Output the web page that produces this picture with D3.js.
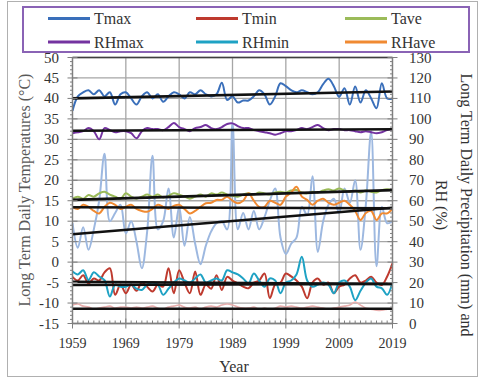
<!DOCTYPE html>
<html lang="en">
<head>
    <meta charset="UTF-8">
    <title>Long Term Daily Temperatures and RH</title>
    <style>
        body {
            margin: 0;
            background-color: #FFFFFF;
        }
        svg text {
            font-family: 'Liberation Serif', 'Times New Roman', serif;
        }
    </style>
</head>
<body>
    <div id="chart"></div>

    <script src="https://cdnjs.cloudflare.com/ajax/libs/d3/7.8.5/d3.min.js"></script>
    <script>
        // ---- data (1959 - 2019) ----
        const years = d3.range(1959, 2020);

        // left axis, deg C
        const tmax = [37.0, 40.5, 41.5, 42.0, 41.0, 42.0, 40.5, 41.5, 38.5, 41.0,
                      41.5, 40.0, 38.5, 40.5, 41.5, 40.0, 41.0, 39.2, 40.5, 41.5,
                      41.0, 40.0, 41.5, 41.0, 42.0, 41.0, 40.5, 41.0, 43.8, 39.6,
                      40.5, 39.0, 39.5, 39.5, 40.5, 42.0, 41.0, 38.5, 40.5, 43.7,
                      43.0, 42.0, 41.5, 42.0, 41.5, 41.0, 41.5, 43.5, 44.8, 43.0,
                      40.4, 42.5, 38.5, 42.9, 39.0, 42.0, 40.0, 37.6, 43.7, 40.0, 40.0];
        const tmin = [-3.6, -4.5, -3.2, -5.2, -4.0, -4.5, -2.5, -1.5, -8.0, -5.5,
                      -7.6, -5.5, -7.0, -5.0, -6.0, -7.2, -5.5, -6.0, -1.5, -7.6,
                      -2.0, -5.0, -7.6, -2.3, -8.0, -5.5, -6.5, -3.2, -6.8, -3.6,
                      -4.5, -5.2, -6.0, -6.4, -5.0, -4.5, -2.8, -8.8, -5.5, -5.0,
                      -2.8, -3.5, -4.5, -6.0, -8.8, -5.0, -4.0, -5.5, -5.0, -7.6,
                      -6.0, -5.5, -4.0, -3.2, -5.0, -4.5, -3.6, -5.0, -5.6, -3.5, -0.3];
        const tave = [15.5, 16.0, 15.5, 16.4, 16.0, 16.8, 17.2, 16.5, 16.0, 15.5,
                      16.8, 16.0, 15.5, 16.0, 16.5, 16.0, 16.5, 15.8, 16.2, 16.8,
                      16.5, 16.0, 15.5, 16.0, 16.5, 16.0, 16.8, 16.5, 17.0, 16.5,
                      16.2, 16.0, 16.5, 16.8, 16.5, 17.0, 16.8, 16.5, 17.0, 17.2,
                      17.0, 17.5, 17.6, 17.0, 16.8, 17.2, 17.0, 17.5, 17.8, 17.5,
                      18.0, 17.5, 17.2, 17.5, 17.0, 17.5, 17.2, 17.0, 17.6, 17.8, 17.5];

        // right axis, %
        const rhmax = [93.0, 93.5, 94.0, 95.5, 94.0, 90.0, 95.5, 94.5, 93.5, 94.0,
                       94.0, 93.0, 90.5, 94.0, 95.5, 95.0, 95.0, 94.5, 96.0, 98.0,
                       96.0, 95.0, 94.0, 95.5, 96.0, 97.0, 95.5, 95.0, 96.0, 97.5,
                       97.8, 96.5, 95.5, 95.5, 94.5, 94.0, 93.5, 93.0, 92.3, 93.0,
                       94.0, 94.0, 94.6, 95.5, 95.0, 96.0, 97.0, 95.5, 94.5, 95.0,
                       95.0, 94.5, 94.5, 94.0, 93.5, 94.0, 93.5, 93.0, 93.5, 94.5, 95.0];
        const rhmin = [25.4, 24.0, 26.0, 21.2, 25.0, 23.0, 21.2, 13.2, 19.0, 18.0,
                       18.0, 19.0, 17.0, 16.4, 19.0, 20.0, 19.0, 14.0, 17.0, 20.0,
                       22.0, 21.0, 20.0, 22.0, 24.0, 20.0, 21.0, 22.0, 21.0, 26.0,
                       25.0, 24.0, 22.0, 19.6, 24.4, 21.0, 18.0, 22.0, 21.0, 14.8,
                       20.0, 21.0, 24.0, 32.6, 21.0, 18.0, 19.0, 20.0, 19.0, 14.8,
                       20.0, 21.0, 18.0, 11.4, 16.0, 20.0, 22.0, 18.0, 17.2, 14.0, 20.0];
        const rhave = [57.0, 56.0, 58.0, 57.0, 55.0, 53.8, 57.0, 59.0, 58.0, 56.0,
                       57.0, 58.0, 56.0, 55.0, 54.6, 56.0, 58.0, 57.0, 56.0, 57.5,
                       58.0, 56.0, 53.8, 55.0, 57.0, 58.8, 59.0, 60.4, 60.4, 62.0,
                       60.0, 58.8, 60.0, 63.6, 60.0, 57.0, 57.0, 60.0, 59.0, 58.0,
                       62.0, 64.0, 66.8, 62.0, 60.4, 58.0, 60.0, 61.0, 59.0, 58.0,
                       59.0, 60.0, 58.0, 55.0, 50.6, 54.0, 55.0, 50.6, 53.8, 53.8, 56.0];
        // unlabelled series on right axis
        const prcp = [49, 37, 47, 36, 46, 60, 83, 50, 54, 58,
                      44, 50, 40, 27, 45, 82, 46, 50, 66, 42,
                      57, 38, 52, 39, 29, 38, 45, 49, 50, 46,
                      98, 46, 54, 46, 55, 46, 52, 60, 66, 42,
                      34, 39, 42, 57, 53, 72, 35, 50, 58, 61,
                      54, 66, 59, 70, 36, 58, 94, 28, 57, 49, 50];
        const pink = [9, 9.5, 8.5, 8, 7, 7.5, 8, 8.5, 7.5, 8,
                      8, 7.5, 8, 7.5, 8, 8.5, 7.5, 7, 8, 8.5,
                      9, 8, 7.5, 8, 7, 8, 8.5, 8, 9, 9.5,
                      9, 8, 7.5, 7.5, 8, 7, 7.5, 7, 7.5, 8.5,
                      8, 8.5, 8, 7.5, 8, 8.5, 8, 7.5, 7, 7.5,
                      8, 8.5, 9, 10.5, 9, 7.5, 7, 6.5, 6.5, 7, 7.5];

        // linear trend lines, [value at 1959, value at 2019]
        const trendTmax = [40.0, 41.7];
        const trendTave = [15.2, 17.6];
        const trendTmin = [-4.8, -5.35];
        const trendRHmax = [94.2, 94.9];
        const trendRHave = [56.8, 56.3];
        const trendRHmin = [18.8, 19.3];
        const trendPrcp = [43.6, 56.6];
        const trendPink = [7.2, 7.2];

        const leftTicks = d3.range(-15, 51, 5);
        const rightTicks = d3.range(0, 131, 10);
        const yearTicks = d3.range(1959, 2020, 10);

        const legendItems = [
            { name: "Tmax", color: "#3A6FBA" },
            { name: "Tmin", color: "#BE3A2E" },
            { name: "Tave", color: "#9BBB59" },
            { name: "RHmax", color: "#7433A0" },
            { name: "RHmin", color: "#1EA2C4" },
            { name: "RHave", color: "#F08A32" }
        ];

        // ---- chart ----
        const width = 482, height = 378;
        const svg = d3.select("#chart").append("svg")
            .attr("width", width)
            .attr("height", height);

        // outer frame
        svg.append("rect")
            .attr("x", 7.5).attr("y", 1.5)
            .attr("width", 470).attr("height", 375)
            .attr("fill", "none")
            .attr("stroke", "#B0B0B0");

        const plotL = 72.5, plotR = 392.5, plotT = 57.5, plotB = 323.5;

        const x = d3.scaleLinear().domain([1959, 2019]).range([plotL, plotR]);
        const yL = d3.scaleLinear().domain([-15, 50]).range([plotB, plotT]);
        const yR = d3.scaleLinear().domain([0, 130]).range([plotB, plotT]);

        // gridlines
        svg.append("g").selectAll("line")
            .data(leftTicks)
            .enter().append("line")
            .attr("x1", plotL).attr("x2", plotR)
            .attr("y1", d => yL(d)).attr("y2", d => yL(d))
            .attr("stroke", "#A6A6A6")
            .attr("stroke-width", 1.3);
        svg.append("g").selectAll("line")
            .data(yearTicks)
            .enter().append("line")
            .attr("x1", d => x(d)).attr("x2", d => x(d))
            .attr("y1", plotT).attr("y2", plotB)
            .attr("stroke", "#A6A6A6")
            .attr("stroke-width", 1.3);

        // top border
        svg.append("line")
            .attr("x1", plotL).attr("x2", plotR)
            .attr("y1", plotT).attr("y2", plotT)
            .attr("stroke", "#404040")
            .attr("stroke-width", 1.5);

        const smooth = d3.curveCatmullRom.alpha(0.5);
        const lineL = d3.line().x((d, i) => x(years[i])).y(d => yL(d)).curve(smooth);
        const lineR = d3.line().x((d, i) => x(years[i])).y(d => yR(d)).curve(smooth);

        function drawSeries(values, gen, color, w) {
            svg.append("path")
                .datum(values)
                .attr("d", gen)
                .attr("fill", "none")
                .attr("stroke", color)
                .attr("stroke-width", w)
                .attr("stroke-linejoin", "round");
        }

        drawSeries(pink, lineR, "#E9AFAE", 1.6);
        drawSeries(prcp, lineR, "#9DB8E0", 2);
        drawSeries(tmax, lineL, "#3A6FBA", 2);
        drawSeries(tmin, lineL, "#BE3A2E", 2);
        drawSeries(tave, lineL, "#9BBB59", 2);
        drawSeries(rhmax, lineR, "#7433A0", 2);
        drawSeries(rhmin, lineR, "#1EA2C4", 2);
        drawSeries(rhave, lineR, "#F08A32", 2);

        // trend lines
        const trendsL = [trendTmax, trendTave, trendTmin];
        const trendsR = [trendRHmax, trendRHave, trendRHmin, trendPrcp, trendPink];
        function drawTrend(t, y) {
            svg.append("line")
                .attr("x1", x(1959)).attr("x2", x(2019))
                .attr("y1", y(t[0])).attr("y2", y(t[1]))
                .attr("stroke", "#111")
                .attr("stroke-width", 2.6);
        }
        trendsL.forEach(t => drawTrend(t, yL));
        trendsR.forEach(t => drawTrend(t, yR));

        // axes
        const axisColor = "#7F7F7F";
        const tickColor = "#333333";

        // left axis
        svg.append("line")
            .attr("x1", plotL).attr("x2", plotL).attr("y1", plotT).attr("y2", plotB)
            .attr("stroke", axisColor).attr("stroke-width", 1.3);
        svg.append("g").selectAll("line")
            .data(d3.range(-15, 51, 1))
            .enter().append("line")
            .attr("x1", d => d % 5 === 0 ? plotL - 5 : plotL - 2.5)
            .attr("x2", d => d % 5 === 0 ? plotL + 5 : plotL)
            .attr("y1", d => yL(d)).attr("y2", d => yL(d))
            .attr("stroke", axisColor);
        svg.append("g").selectAll("text")
            .data(leftTicks)
            .enter().append("text")
            .attr("x", 59)
            .attr("y", d => yL(d) + 5)
            .attr("text-anchor", "end")
            .attr("font-size", 15)
            .attr("fill", tickColor)
            .text(d => d);

        // right axis
        svg.append("line")
            .attr("x1", plotR).attr("x2", plotR).attr("y1", plotT).attr("y2", plotB)
            .attr("stroke", axisColor).attr("stroke-width", 1.3);
        svg.append("g").selectAll("line")
            .data(d3.range(0, 131, 2))
            .enter().append("line")
            .attr("x1", d => d % 10 === 0 ? plotR - 5 : plotR - 2.5)
            .attr("x2", d => d % 10 === 0 ? plotR + 5 : plotR)
            .attr("y1", d => yR(d)).attr("y2", d => yR(d))
            .attr("stroke", axisColor);
        svg.append("g").selectAll("text")
            .data(rightTicks)
            .enter().append("text")
            .attr("x", 409)
            .attr("y", d => yR(d) + 5)
            .attr("text-anchor", "start")
            .attr("font-size", 15)
            .attr("fill", tickColor)
            .text(d => d);

        // bottom axis
        svg.append("line")
            .attr("x1", plotL).attr("x2", plotR).attr("y1", plotB).attr("y2", plotB)
            .attr("stroke", axisColor).attr("stroke-width", 1.3);
        svg.append("g").selectAll("line")
            .data(years)
            .enter().append("line")
            .attr("x1", d => x(d)).attr("x2", d => x(d))
            .attr("y1", d => (d - 1959) % 10 === 0 ? plotB - 5 : plotB - 3)
            .attr("y2", d => (d - 1959) % 10 === 0 ? plotB + 5 : plotB)
            .attr("stroke", axisColor);
        svg.append("g").selectAll("text")
            .data(yearTicks)
            .enter().append("text")
            .attr("x", d => x(d))
            .attr("y", 348)
            .attr("text-anchor", "middle")
            .attr("font-size", 14)
            .attr("fill", tickColor)
            .text(d => d);

        // axis titles
        svg.append("text")
            .attr("x", 234).attr("y", 372)
            .attr("text-anchor", "middle")
            .attr("font-size", 16)
            .attr("fill", "#333333")
            .text("Year");
        svg.append("text")
            .attr("transform", "translate(30,190) rotate(-90)")
            .attr("text-anchor", "middle")
            .attr("font-size", 16)
            .attr("fill", "#595959")
            .text("Long Term Daily Temperatures (°C)");
        svg.append("text")
            .attr("transform", "translate(461,205) rotate(90)")
            .attr("text-anchor", "middle")
            .attr("font-size", 16)
            .attr("fill", "#333333")
            .text("Long Term Daily Precipitation (mm) and");
        svg.append("text")
            .attr("transform", "translate(436,205) rotate(90)")
            .attr("text-anchor", "middle")
            .attr("font-size", 16)
            .attr("fill", "#333333")
            .text("RH (%)");

        // legend
        svg.append("rect")
            .attr("x", 23).attr("y", 7)
            .attr("width", 446).attr("height", 45)
            .attr("fill", "#FFFFFF")
            .attr("stroke", "#8A63B5")
            .attr("stroke-width", 2);
        const colX = [48, 196, 345];
        const rowY = [18.5, 42];
        const legend = svg.append("g").selectAll("g")
            .data(legendItems)
            .enter().append("g")
            .attr("transform", (d, i) => `translate(${colX[i % 3]},${rowY[Math.floor(i / 3)]})`);
        legend.append("line")
            .attr("x1", 0).attr("x2", 42)
            .attr("stroke", d => d.color)
            .attr("stroke-width", 3);
        legend.append("text")
            .attr("x", 46).attr("y", 5.5)
            .attr("font-size", 16)
            .attr("fill", "#333333")
            .text(d => d.name);
    </script>
</body>
</html>
